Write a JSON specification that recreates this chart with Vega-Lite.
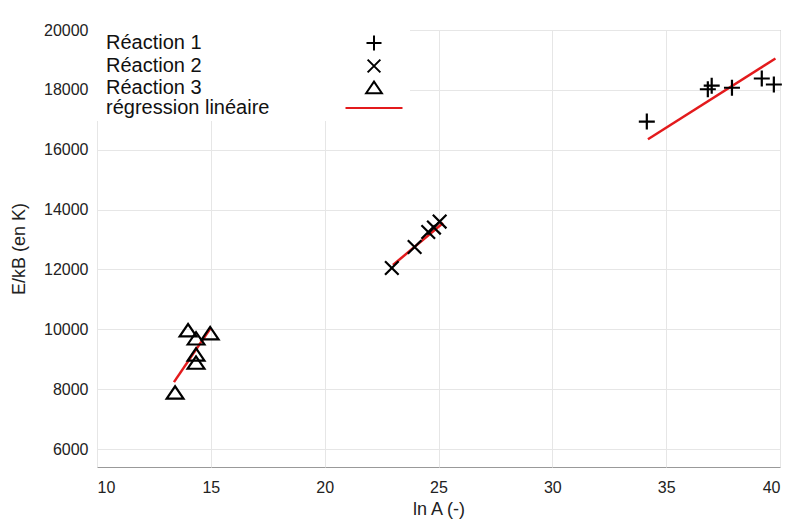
{
  "$schema": "https://vega.github.io/schema/vega-lite/v6.json",
  "width": 683,
  "height": 437,
  "autosize": {"type": "none"},
  "padding": {"left": 97, "top": 30, "right": 15, "bottom": 54},
  "background": "white",
  "config": {
    "font": "Liberation Sans",
    "view": {"stroke": "#999999", "strokeWidth": 1},
    "axis": {
      "domain": false,
      "ticks": false,
      "grid": true,
      "gridColor": "#e6e6e6",
      "gridWidth": 1,
      "labelFont": "Liberation Sans",
      "labelFontSize": 16,
      "labelColor": "#222222",
      "titleFont": "Liberation Sans",
      "titleFontSize": 18,
      "titleFontWeight": "normal",
      "titleColor": "#222222",
      "format": "d"
    },
    "legend": {
      "title": null,
      "orient": "top-left",
      "offset": 0,
      "padding": 3,
      "fillColor": "white",
      "strokeColor": null,
      "labelFont": "Liberation Sans",
      "labelFontSize": 20,
      "labelColor": "#111111",
      "labelOffset": -278,
      "symbolOffset": 264,
      "symbolSize": 225,
      "symbolStrokeWidth": 2,
      "rowPadding": 0,
      "labelLimit": 400
    }
  },
  "datasets": {
    "pts": [
      {"serie": "Réaction 1", "lnA": 34.15, "E": 16940},
      {"serie": "Réaction 1", "lnA": 36.83, "E": 18020},
      {"serie": "Réaction 1", "lnA": 37.0, "E": 18140},
      {"serie": "Réaction 1", "lnA": 37.89, "E": 18070},
      {"serie": "Réaction 1", "lnA": 39.2, "E": 18380},
      {"serie": "Réaction 1", "lnA": 39.73, "E": 18180},
      {"serie": "Réaction 2", "lnA": 22.95, "E": 12050},
      {"serie": "Réaction 2", "lnA": 23.95, "E": 12750},
      {"serie": "Réaction 2", "lnA": 24.55, "E": 13250},
      {"serie": "Réaction 2", "lnA": 24.8, "E": 13400},
      {"serie": "Réaction 2", "lnA": 25.05, "E": 13600},
      {"serie": "Réaction 3", "lnA": 14.0, "E": 9950},
      {"serie": "Réaction 3", "lnA": 14.35, "E": 9680},
      {"serie": "Réaction 3", "lnA": 14.97, "E": 9850},
      {"serie": "Réaction 3", "lnA": 14.35, "E": 9140},
      {"serie": "Réaction 3", "lnA": 14.35, "E": 8870},
      {"serie": "Réaction 3", "lnA": 13.43, "E": 7870}
    ],
    "reg": [
      {"groupe": "R1", "lnA": 34.2, "E": 16350},
      {"groupe": "R1", "lnA": 39.8, "E": 19050},
      {"groupe": "R2", "lnA": 23.0, "E": 12150},
      {"groupe": "R2", "lnA": 25.2, "E": 13550},
      {"groupe": "R3", "lnA": 13.38, "E": 8235},
      {"groupe": "R3", "lnA": 15.0, "E": 10050}
    ]
  },
  "layer": [
    {
      "data": {"name": "reg"},
      "mark": {"type": "line", "color": "#e31a1c", "strokeWidth": 2.5},
      "encoding": {
        "x": {"field": "lnA", "type": "quantitative"},
        "y": {"field": "E", "type": "quantitative"},
        "detail": {"field": "groupe"}
      }
    },
    {
      "data": {"name": "pts"},
      "mark": {"type": "point", "filled": false, "strokeWidth": 2.2, "size": 256, "opacity": 1},
      "encoding": {
        "x": {
          "field": "lnA", "type": "quantitative",
          "scale": {"domain": [10, 40], "nice": false, "zero": false},
          "axis": {"title": "ln A (-)", "values": [10, 15, 20, 25, 30, 35, 40], "labelPadding": 12, "titlePadding": 5}
        },
        "y": {
          "field": "E", "type": "quantitative",
          "scale": {"domain": [5400, 20000], "nice": false, "zero": false},
          "axis": {"title": "E/kB (en K)", "values": [6000, 8000, 10000, 12000, 14000, 16000, 18000, 20000], "labelPadding": 9, "titlePadding": 15}
        },
        "color": {
          "field": "serie", "type": "nominal",
          "scale": {
            "domain": ["Réaction 1", "Réaction 2", "Réaction 3", "régression linéaire"],
            "range": ["black", "black", "black", "#e31a1c"]
          }
        },
        "shape": {
          "field": "serie", "type": "nominal",
          "scale": {
            "domain": ["Réaction 1", "Réaction 2", "Réaction 3", "régression linéaire"],
            "range": ["M-1,0L1,0M0,-1L0,1", "M-0.85,-0.85L0.85,0.85M-0.85,0.85L0.85,-0.85", "M-1.05,0.7L0,-0.85L1.05,0.7Z", "M-3.8,0L3.8,0"]
          }
        }
      }
    }
  ]
}
